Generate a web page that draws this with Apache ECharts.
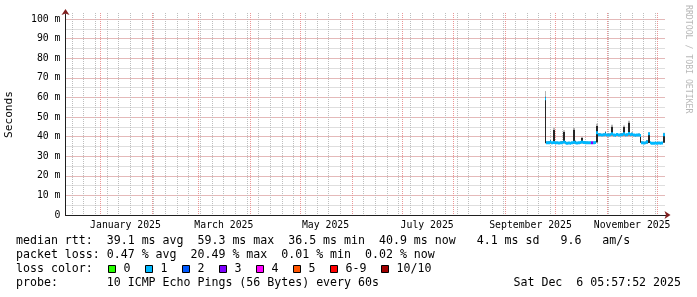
<!DOCTYPE html>
<html><head><meta charset="utf-8">
<script src="https://cdn.jsdelivr.net/npm/echarts@6/dist/echarts.min.js"></script>
<style>html,body{margin:0;padding:0;background:#fff}#c{width:697px;height:297px}</style>
</head><body><div id="c"></div>
<script>
// ---- axis range / labels ----
const axisStart = '2024-12-11';
const axisEnd = '2025-12-06';
const xLabelDates = ['2025-01-16', '2025-03-16', '2025-05-16', '2025-07-16', '2025-09-16', '2025-11-16'];
const xLabelTexts = ['January 2025', 'March 2025', 'May 2025', 'July 2025', 'September 2025', 'November 2025'];
const yTickLabels = ['0', '10 m', '20 m', '30 m', '40 m', '50 m', '60 m', '70 m', '80 m', '90 m', '100 m'];
const yMax = 102.55;

// ---- data (ms), one value per day starting at dataStart ----
const dataStart = '2025-09-25';
const medianRtt = [
  59.3, 36.8, 36.9, 37.4, 36.8, 37.0, 36.7, 36.8, 36.7, 36.8,
  36.9, 37.2, 36.8, 36.6, 36.7, 36.6, 36.8, 37.1, 36.9, 36.7,
  36.8, 37.0, 37.3, 37.0, 36.9, 36.9, 36.8, 36.9, 36.8, 36.9,
  37.0, 42.0, 41.0, 40.9, 40.8, 40.9, 41.3, 40.8, 40.8, 40.9,
  41.4, 40.8, 40.7, 41.1, 40.8, 40.8, 40.9, 41.5, 40.8, 40.9,
  41.6, 40.9, 41.2, 40.8, 40.7, 40.8, 40.8, 40.6, 36.9, 36.7,
  36.8, 37.2, 41.4, 36.8, 36.6, 36.6, 36.7, 36.6, 36.7, 36.6,
  36.7, 40.9
];
const smokeLow = [
  36.6, 36.4, 36.5, 36.6, 36.4, 36.5, 36.3, 36.4, 36.3, 36.4,
  36.5, 36.6, 36.4, 36.2, 36.3, 36.2, 36.4, 36.5, 36.5, 36.3,
  36.4, 36.5, 36.6, 36.5, 36.4, 36.5, 36.4, 36.5, 36.4, 36.5,
  36.5, 37.0, 40.3, 40.4, 40.3, 40.4, 40.5, 40.3, 40.3, 40.4,
  40.5, 40.3, 40.2, 40.4, 40.3, 40.3, 40.4, 40.6, 40.3, 40.4,
  40.6, 40.4, 40.5, 40.3, 40.2, 40.3, 40.3, 36.8, 36.4, 36.3,
  36.4, 36.5, 36.7, 36.4, 36.2, 36.2, 36.3, 36.2, 36.3, 36.2,
  36.3, 36.8
];
const smokeHigh = [
  60.5, 37.4, 37.5, 38.3, 37.3, 43.5, 37.2, 37.3, 37.2, 37.4,
  37.5, 42.5, 37.6, 37.1, 37.2, 37.1, 37.3, 43.6, 37.9, 37.2,
  37.3, 37.8, 39.4, 37.6, 37.4, 37.4, 37.3, 37.4, 37.3, 37.4,
  37.6, 45.5, 41.6, 41.4, 41.3, 41.5, 42.4, 41.3, 41.4, 41.5,
  45.2, 41.3, 41.2, 41.9, 41.3, 41.4, 41.6, 44.9, 41.3, 41.5,
  47.2, 41.5, 42.0, 41.3, 41.2, 41.3, 41.4, 41.2, 37.4, 37.2,
  37.3, 38.0, 41.8, 37.3, 37.1, 37.1, 37.2, 37.1, 37.2, 37.1,
  37.2, 41.6
];
const smokeTip = [
  63.3, null, null, null, null, 44.5, null, null, null, null,
  null, 43.3, null, null, null, null, null, 44.4, null, null,
  null, null, 39.9, null, null, null, null, null, null, null,
  null, 46.6, null, null, null, null, 42.9, null, null, null,
  46.0, null, null, null, null, null, null, 45.7, null, null,
  48.1, null, null, null, null, null, null, null, null, null,
  null, null, 42.2, null, null, null, null, null, null, null,
  null, 42.0
];
const lossCount = [
  1, 1, 1, 1, 1, 1, 1, 1, 1, 1,
  1, 1, 1, 1, 1, 1, 1, 1, 1, 1,
  1, 1, 1, 1, 1, 1, 1, 1, 3, 1,
  1, 1, 1, 1, 1, 1, 1, 1, 1, 1,
  1, 1, 1, 1, 1, 1, 1, 1, 1, 1,
  1, 1, 1, 1, 1, 1, 1, 1, 1, 1,
  1, 1, 1, 1, 1, 1, 1, 1, 1, 1,
  1, 1
];

// ---- legend ----
const lossLegendLabels = ['0', '1', '2', '3', '4', '5', '6-9', '10/10'];
const lossLegendColors = ['#26ff00', '#00b8ff', '#0059ff', '#7e00ff', '#ff00ff', '#ff5500', '#ff0000', '#a00000'];
const statsRtt = 'median rtt:  39.1 ms avg  59.3 ms max  36.5 ms min  40.9 ms now   4.1 ms sd   9.6   am/s';
const statsLoss = 'packet loss: 0.47 % avg  20.49 % max  0.01 % min  0.02 % now';
const lossTitle = 'loss color:';
const probeText = 'probe:       10 ICMP Echo Pings (56 Bytes) every 60s';
const dateText = 'Sat Dec  6 05:57:52 2025';
const watermark = 'RRDTOOL / TOBI OETIKER';
const yName = 'Seconds';

// ---- build ----
function ymd(t) {
  const d = new Date(t);
  return d.getUTCFullYear() + '-' + String(d.getUTCMonth() + 1).padStart(2, '0') + '-' + String(d.getUTCDate()).padStart(2, '0');
}
const days = [];
for (let t = Date.parse(axisStart + 'T00:00:00Z'); t <= Date.parse(axisEnd + 'T00:00:00Z'); t += 86400000) days.push(ymd(t));
const startIdx = days.indexOf(dataStart);
const weekLines = [], monthLines = [];
days.forEach((d, i) => {
  if (i === 0 || i === days.length - 1) return;
  if (d.slice(8) === '01') monthLines.push([i]);
  else if (new Date(d + 'T00:00:00Z').getUTCDay() === 0) weekLines.push([i]);
});

function lossLevel(n) { return n <= 5 ? n : (n < 10 ? 6 : 7); }

const smokeData = medianRtt.map((m, i) => [startIdx + i, smokeLow[i], smokeHigh[i]]);
const tipData = [];
smokeTip.forEach((v, i) => { if (v != null) tipData.push([startIdx + i, smokeHigh[i], v]); });
const medData = medianRtt.map((m, i) => [startIdx + i, m, lossLevel(lossCount[i])]);

const MONO = 'DejaVu Sans Mono';
const axisCol = '#1f1f1f', arrowCol = '#801f1f', gridCol = '#bdbdbd', mgridCol = '#eb9595';

function rangeRect(color) {
  return function (params, api) {
    const x = api.value(0);
    const p1 = api.coord([x, api.value(1)]);
    const p2 = api.coord([x, api.value(2)]);
    const w = api.size([1, 0])[0];
    const l = Math.round(p1[0] - w / 2), r = Math.round(p1[0] + w / 2);
    return { type: 'rect', shape: { x: l, y: p2[1], width: Math.max(1, r - l), height: p1[1] - p2[1] }, style: { fill: color } };
  };
}
function medRect(params, api) {
  const x = api.value(0);
  const p = api.coord([x, api.value(1)]);
  const w = api.size([1, 0])[0];
  const l = Math.round(p[0] - w / 2), r = Math.round(p[0] + w / 2);
  return { type: 'rect', shape: { x: l, y: p[1] - 1.5, width: Math.max(1, r - l), height: 3 }, style: { fill: lossLegendColors[api.value(2)] } };
}
function vGrid(color) {
  return function (params, api) {
    const x = Math.floor(api.coord([api.value(0), 0])[0]) + 0.5;
    const cs = params.coordSys;
    return { type: 'line', shape: { x1: x, y1: cs.y - 1, x2: x, y2: cs.y + cs.height }, style: { stroke: color, lineWidth: 1, lineDash: [1, 1] } };
  };
}

const graphics = [];
const lines = [statsRtt, statsLoss, lossTitle, probeText];
const lineY = [241, 255, 269, 283];
lines.forEach((s, i) => graphics.push({ type: 'text', x: 16, y: lineY[i], style: { text: s, font: '11.6px ' + MONO, fill: '#000', textVerticalAlign: 'middle' } }));
graphics.push({ type: 'text', x: 681, y: 283, style: { text: dateText, font: '11.6px ' + MONO, fill: '#000', textAlign: 'right', textVerticalAlign: 'middle' } });
let bx = 108.5;
lossLegendLabels.forEach((lab, i) => {
  graphics.push({ type: 'rect', shape: { x: bx, y: 265.5, width: 7, height: 7 }, style: { fill: lossLegendColors[i], stroke: '#000', lineWidth: 1 } });
  graphics.push({ type: 'text', x: bx + 15, y: 269, style: { text: lab, font: '11.6px ' + MONO, fill: '#000', textVerticalAlign: 'middle' } });
  bx += 16.3 + 7 * lab.length + 14;
  bx = Math.round(bx - 0.5) + 0.5;
});
graphics.push({ type: 'text', x: 688, y: 5, rotation: -Math.PI / 2, style: { text: watermark, font: '8.2px ' + MONO, fill: '#b8b8b8', textAlign: 'left', textVerticalAlign: 'middle' } });

const chart = echarts.init(document.getElementById('c'), null, { renderer: 'canvas' });
chart.setOption({
  animation: false,
  backgroundColor: '#fff',
  grid: { left: 65.5, width: 600, top: 14, height: 201, containLabel: false, outerBoundsMode: 'none' },
  xAxis: [
    { type: 'category', data: days, boundaryGap: false, position: 'bottom',
      axisLine: { show: true, symbol: ['none', 'arrow'], symbolSize: [6, 6], symbolOffset: [0, 5], lineStyle: { color: arrowCol, width: 1 } },
      axisTick: { show: false }, axisLabel: { show: false }, splitLine: { show: false } },
    { type: 'category', data: days, boundaryGap: false, position: 'bottom',
      axisLine: { show: true, lineStyle: { color: axisCol, width: 1 } },
      axisTick: { show: false },
      axisLabel: { show: true, interval: (i, v) => xLabelDates.indexOf(v) >= 0, formatter: v => xLabelTexts[xLabelDates.indexOf(v)] || '', margin: 5, fontFamily: MONO, fontSize: 9.8, color: '#000' },
      splitLine: { show: false } }
  ],
  yAxis: [
    { type: 'value', min: 0, max: yMax, interval: 5, position: 'left',
      axisLine: { show: true, symbol: ['none', 'arrow'], symbolSize: [6, 6], symbolOffset: [0, 5], lineStyle: { color: arrowCol, width: 1 } },
      axisTick: { show: false }, axisLabel: { show: false },
      splitLine: { show: true, showMinLine: false, showMaxLine: false, lineStyle: { color: gridCol, width: 1, type: [1, 1] } } },
    { type: 'value', min: 0, max: yMax, interval: 10, position: 'left',
      axisLine: { show: true, lineStyle: { color: axisCol, width: 1 } },
      axisTick: { show: false },
      axisLabel: { show: true, showMaxLabel: false, margin: 5, fontFamily: MONO, fontSize: 9.8, color: '#000', formatter: v => yTickLabels[Math.round(v / 10)] || '' },
      splitLine: { show: true, showMinLine: false, showMaxLine: false, lineStyle: { color: mgridCol, width: 1, type: [1, 1] } },
      name: yName, nameLocation: 'middle', nameRotate: 90, nameGap: 51, nameTextStyle: { fontFamily: MONO, fontSize: 11.2, color: '#000' } }
  ],
  series: [
    { type: 'custom', name: 'week grid', xAxisIndex: 0, yAxisIndex: 0, data: weekLines, renderItem: vGrid(gridCol), encode: { x: 0 }, silent: true, z: 1 },
    { type: 'custom', name: 'month grid', xAxisIndex: 0, yAxisIndex: 0, data: monthLines, renderItem: vGrid(mgridCol), encode: { x: 0 }, silent: true, z: 1 },
    { type: 'custom', name: 'smoke', xAxisIndex: 0, yAxisIndex: 0, data: smokeData, renderItem: rangeRect('#262626'), encode: { x: 0, y: [1, 2] }, silent: true, z: 2 },
    { type: 'custom', name: 'smoke top', xAxisIndex: 0, yAxisIndex: 0, data: tipData, renderItem: rangeRect('#b4b4b4'), encode: { x: 0, y: [1, 2] }, silent: true, z: 2 },
    { type: 'custom', name: 'median rtt', xAxisIndex: 0, yAxisIndex: 0, data: medData, renderItem: medRect, encode: { x: 0, y: 1 }, silent: true, z: 3 }
  ],
  graphic: graphics
});
</script></body></html>
